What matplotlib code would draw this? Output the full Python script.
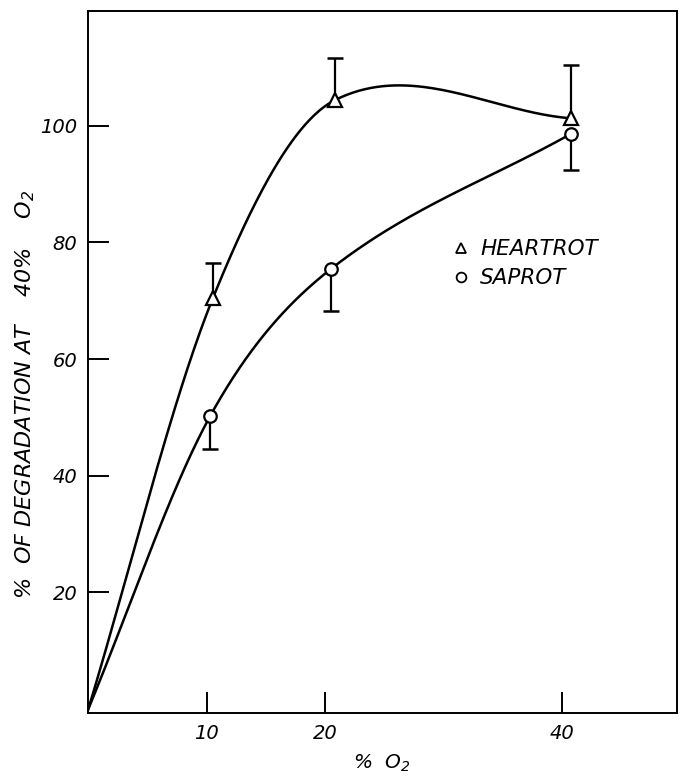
import numpy as np
import matplotlib
matplotlib.use("Agg")
import matplotlib.pyplot as plt
from matplotlib.lines import Line2D

plt.rcParams['font.family'] = ['DejaVu Sans']
plt.rcParams['font.style'] = 'italic'
plt.rcParams['mathtext.fontset'] = 'dejavusans'

# values (% O2 -> % of degradation at 40% O2)
heart_o2 = [10.5, 20.8, 40.7]
heart_pct = [70.4, 104.4, 101.3]
heart_top = [76.4, 111.6, 110.4]   # upper end of error bar

sap_o2 = [10.3, 20.5, 40.7]
sap_pct = [50.3, 75.5, 98.6]
sap_low = [44.6, 68.3, 92.5]       # lower end of error bar

x_ticks = [10, 20, 40]
y_ticks = [20, 40, 60, 80, 100]


def smooth(xs, ys, n=80):
    # Catmull-Rom style hermite curve through the points
    xs = np.asarray(xs, float)
    ys = np.asarray(ys, float)
    m = np.empty(len(xs))
    m[0] = (ys[1] - ys[0]) / (xs[1] - xs[0])
    m[-1] = (ys[-1] - ys[-2]) / (xs[-1] - xs[-2])
    m[1:-1] = (ys[2:] - ys[:-2]) / (xs[2:] - xs[:-2])
    out_x, out_y = [], []
    for i in range(len(xs) - 1):
        h = xs[i + 1] - xs[i]
        t = np.linspace(0, 1, n)
        h00 = 2 * t**3 - 3 * t**2 + 1
        h10 = t**3 - 2 * t**2 + t
        h01 = -2 * t**3 + 3 * t**2
        h11 = t**3 - t**2
        out_x.append(xs[i] + t * h)
        out_y.append(h00 * ys[i] + h10 * h * m[i] + h01 * ys[i + 1] + h11 * h * m[i + 1])
    return np.concatenate(out_x), np.concatenate(out_y)


fig = plt.figure(figsize=(6.8, 7.78), dpi=100)
ax = fig.add_axes([0.1299, 0.0835, 0.8652, 0.9024])

lw = 1.8
hx, hy = smooth([0] + heart_o2, [0] + heart_pct)
sx, sy = smooth([0] + sap_o2, [0] + sap_pct)
ax.plot(hx, hy, color='black', lw=lw, zorder=2)
ax.plot(sx, sy, color='black', lw=lw, zorder=2)

# one-sided error bars
ax.vlines(heart_o2, heart_pct, heart_top, color='black', lw=1.6, zorder=2)
ax.plot(heart_o2, heart_top, ls='none', marker='_', ms=11, mew=1.8, color='black')
ax.vlines(sap_o2, sap_low, sap_pct, color='black', lw=1.6, zorder=2)
ax.plot(sap_o2, sap_low, ls='none', marker='_', ms=11, mew=1.8, color='black')

ax.plot(heart_o2, heart_pct, ls='none', marker='^', ms=9.5, mfc='white',
        mec='black', mew=1.6, zorder=3)
ax.plot(sap_o2, sap_pct, ls='none', marker='o', ms=9, mfc='white',
        mec='black', mew=1.6, zorder=3)

ax.set_xlim(0, 49.65)
ax.set_ylim(-0.7, 119.7)
ax.set_xticks(x_ticks)
ax.set_xticklabels([str(v) for v in x_ticks])
ax.set_yticks(y_ticks)
ax.set_yticklabels([str(v) for v in y_ticks])
ax.tick_params(direction='in', length=15, width=1.4, labelsize=14, pad=8)
for s in ax.spines.values():
    s.set_linewidth(1.4)

ax.set_xlabel('%  O$_{\\mathit{2}}$', fontsize=14.5, labelpad=7)
ax.set_ylabel('%  OF DEGRADATION AT    40%    O$_{\\mathit{2}}$', fontsize=16, va='center')
ax.yaxis.set_label_coords(-0.108, 0.454)

handles = [Line2D([], [], ls='none', marker='^', ms=7.5, mfc='white', mec='black', mew=1.3),
           Line2D([], [], ls='none', marker='o', ms=7, mfc='white', mec='black', mew=1.3)]
ax.legend(handles, ['HEARTROT', 'SAPROT'], loc='upper left', bbox_to_anchor=(0.6, 0.69),
          frameon=False, fontsize=15.5, handlelength=0.8, handletextpad=0.5,
          labelspacing=0.42, borderpad=0)

fig.savefig('out.png', dpi=100)
